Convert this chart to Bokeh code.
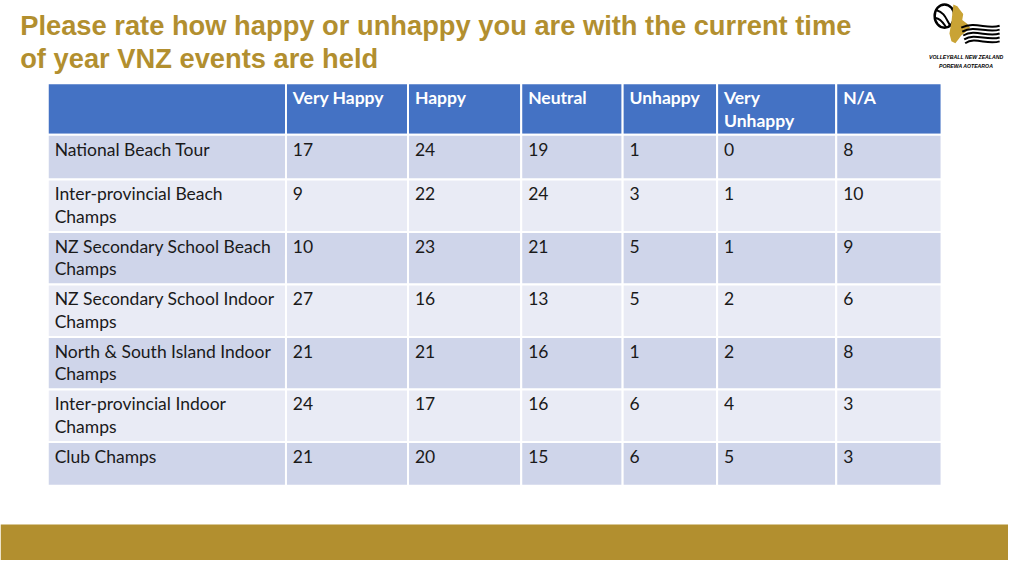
from bokeh.plotting import figure
from bokeh.models import Range1d
from bokeh.core.properties import value
from bokeh.embed import file_html
from bokeh.resources import INLINE

# ---- data ----
title_lines = ["Please rate how happy or unhappy you are with the current time",
               "of year VNZ events are held"]
columns = ["Very Happy", "Happy", "Neutral", "Unhappy", "Very\nUnhappy", "N/A"]
events = ["National Beach Tour",
          "Inter-provincial Beach\nChamps",
          "NZ Secondary School Beach\nChamps",
          "NZ Secondary School Indoor\nChamps",
          "North & South Island Indoor\nChamps",
          "Inter-provincial Indoor\nChamps",
          "Club Champs"]
very_happy = [17, 9, 10, 27, 21, 24, 21]
happy = [24, 22, 23, 16, 21, 17, 20]
neutral = [19, 24, 21, 13, 16, 16, 15]
unhappy = [1, 3, 5, 5, 1, 6, 6]
very_unhappy = [0, 1, 1, 2, 2, 4, 5]
na = [8, 10, 9, 6, 8, 3, 3]
series = [very_happy, happy, neutral, unhappy, very_unhappy, na]

# ---- layout (pixel space of the slide) ----
col_edges = [48, 290, 414, 529, 632, 728, 849, 956]
row_edges = [85, 138, 184, 238, 292, 346, 400, 454, 499]
GOLD = "#B28F2F"
HEADER = "#4472C4"
DARK = "#CFD5EA"
LIGHT = "#E9EBF5"
FONT = "Lato"
FS = "17.5px"
LINE_H = 23

p = figure(width=1008, height=560, output_backend="svg", toolbar_location=None,
           x_range=Range1d(0, 1024), y_range=Range1d(576, 0),
           min_border=0, background_fill_color="white", border_fill_color="white")
p.axis.visible = False
p.grid.visible = False
p.outline_line_color = None

# title
for i, t in enumerate(title_lines):
    p.text(x=[20], y=[26 + i * 34], text=[t], text_font=value("Liberation Sans"),
           text_font_style="bold", text_font_size="27.3px", text_color=GOLD,
           text_baseline="middle", text_align="left")

# gold bottom band
p.quad(left=[0], right=[1024], top=[539], bottom=[576], fill_color=GOLD, line_color=None)

# table cells
ncol = len(col_edges) - 1
for r in range(len(row_edges) - 1):
    top, bot = row_edges[r], row_edges[r + 1]
    if r == 0:
        color = HEADER
    else:
        color = DARK if (r % 2 == 1) else LIGHT
    p.quad(left=col_edges[:-1], right=col_edges[1:], top=[top] * ncol, bottom=[bot] * ncol,
           fill_color=color, line_color="white", line_width=2)

def put_text(x, y_top, s, bold=False, color="#1a1a1a"):
    for k, line in enumerate(s.split("\n")):
        p.text(x=[x], y=[y_top + 15 + k * LINE_H], text=[line], text_font=value(FONT),
               text_font_size=FS, text_color=color, text_baseline="middle",
               text_align="left", text_font_style="bold" if bold else "normal")

# header
for c, name in enumerate(columns):
    put_text(col_edges[c + 1] + 7, row_edges[0], name, bold=True, color="white")

# rows
for r, ev in enumerate(events):
    y0 = row_edges[r + 1]
    put_text(col_edges[0] + 7, y0, ev)
    for c, s in enumerate(series):
        put_text(col_edges[c + 1] + 7, y0, str(s[r]))

# ---- logo (approximation) ----
lx, ly = 959, 16
p.ellipse(x=[lx], y=[ly], width=20, height=24, fill_color=None, line_color="black", line_width=2.5)
p.bezier(x0=[lx - 8], y0=[ly - 6], x1=[lx + 6], y1=[ly + 10], cx0=[lx], cy0=[ly - 4], cx1=[lx + 2], cy1=[ly + 4],
         line_color="black", line_width=2)
p.bezier(x0=[lx - 9], y0=[ly + 2], x1=[lx + 2], y1=[ly + 12], cx0=[lx - 3], cy0=[ly + 3], cx1=[lx - 1], cy1=[ly + 8],
         line_color="black", line_width=2)
p.patch(x=[968, 972, 975, 978, 977, 982, 985, 981, 976, 973, 970, 966, 964, 966],
        y=[4, 6, 10, 14, 20, 24, 28, 32, 36, 40, 44, 42, 34, 22],
        fill_color="#C9A335", line_color=None)
for k in range(5):
    yy = 24 + k * 4
    p.bezier(x0=[976 + k], y0=[yy + 4], x1=[1015], y1=[yy + 2], cx0=[990], cy0=[yy - 3], cx1=[1002], cy1=[yy + 6],
             line_color="black", line_width=2)
p.text(x=[981], y=[58], text=["VOLLEYBALL NEW ZEALAND"], text_font=value("Liberation Sans"),
       text_font_style="bold italic", text_font_size="5.2px", text_color="black",
       text_align="center", text_baseline="middle")
p.text(x=[981], y=[67], text=["POREWA AOTEAROA"], text_font=value("Liberation Sans"),
       text_font_style="bold italic", text_font_size="5.2px", text_color="black",
       text_align="center", text_baseline="middle")

open("out.html", "w").write(file_html(p, INLINE))
